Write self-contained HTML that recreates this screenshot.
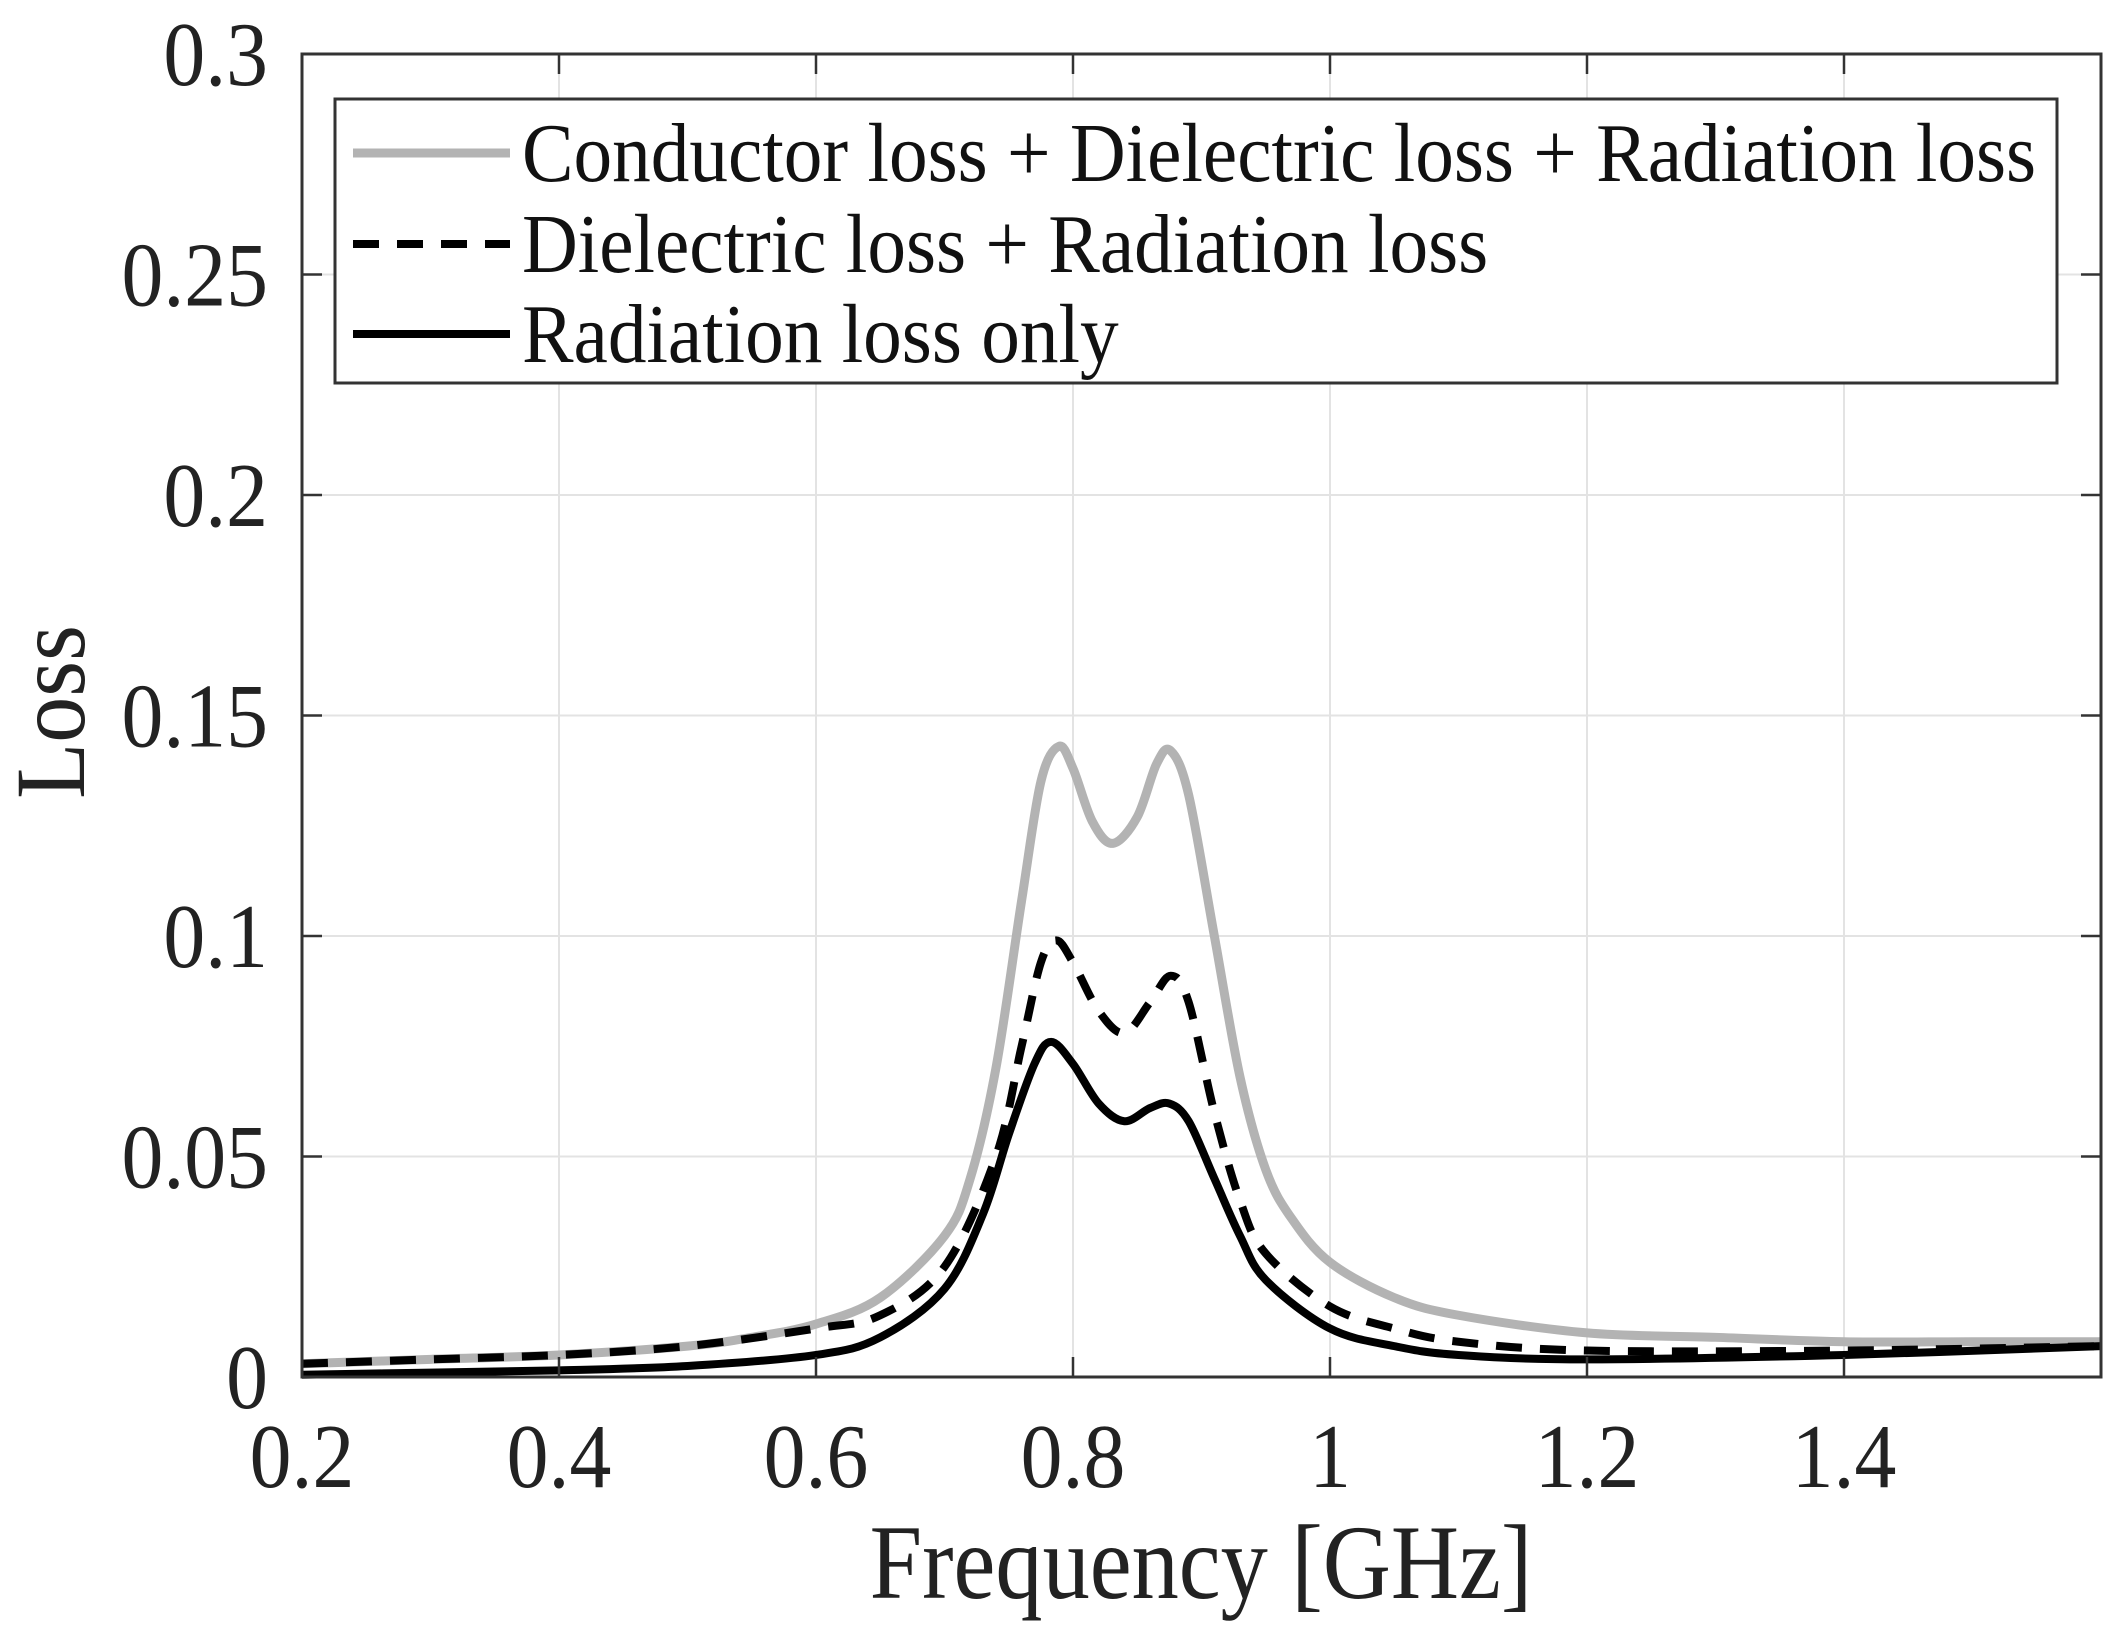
<!DOCTYPE html>
<html><head><meta charset="utf-8"><style>
html,body{margin:0;padding:0;background:#fff;}
svg{display:block;font-family:"Liberation Serif",serif;}
</style></head><body>
<svg id="chart" width="2128" height="1642" viewBox="0 0 2128 1642" xmlns="http://www.w3.org/2000/svg">
<g id="grid"></g>
<g id="series"></g>
<g id="axes"></g>
<text transform="translate(1201,1598) scale(0.89,1)" font-size="106" text-anchor="middle" fill="#222">Frequency [GHz]</text>
<text transform="translate(84,712) rotate(-90) scale(0.92,1)" font-size="100" text-anchor="middle" fill="#222">Loss</text>
<g>
<rect x="335" y="99" width="1722" height="284" fill="#fff" stroke="#333" stroke-width="3"/>
<line x1="353" y1="153" x2="510" y2="153" stroke="#b3b3b3" stroke-width="9"/>
<text transform="translate(522,181) scale(0.92,1)" font-size="84" fill="#111">Conductor loss + Dielectric loss + Radiation loss</text>
<line x1="353" y1="244" x2="510" y2="244" stroke="#000" stroke-width="8" stroke-dasharray="26,18"/>
<text transform="translate(522,272) scale(0.92,1)" font-size="84" fill="#111">Dielectric loss + Radiation loss</text>
<line x1="353" y1="334" x2="510" y2="334" stroke="#000" stroke-width="8"/>
<text transform="translate(522,362) scale(0.92,1)" font-size="84" fill="#111">Radiation loss only</text>
</g>
</svg>
<script>
const xTicks=[0.2,0.4,0.6,0.8,1.0,1.2,1.4];
const xTickLabels=["0.2","0.4","0.6","0.8","1","1.2","1.4"];
const yTicks=[0,0.05,0.1,0.15,0.2,0.25,0.3];
const yTickLabels=["0","0.05","0.1","0.15","0.2","0.25","0.3"];
const totalF=[0.2,0.3,0.4,0.5,0.55,0.6,0.65,0.7,0.72,0.74,0.76,0.775,0.789,0.80,0.815,0.831,0.85,0.865,0.876,0.89,0.91,0.93,0.95,0.97,1.0,1.05,1.1,1.2,1.3,1.4,1.5,1.6];
const totalV=[0.003,0.004,0.005,0.007,0.009,0.012,0.018,0.032,0.045,0.07,0.108,0.135,0.143,0.138,0.126,0.121,0.127,0.139,0.142,0.132,0.1,0.068,0.047,0.036,0.026,0.018,0.014,0.010,0.009,0.008,0.008,0.008];
const dielF=[0.2,0.3,0.4,0.5,0.6,0.65,0.7,0.74,0.76,0.775,0.787,0.80,0.82,0.84,0.86,0.876,0.89,0.91,0.93,0.95,1.0,1.05,1.1,1.2,1.4,1.6];
const dielV=[0.003,0.004,0.005,0.007,0.011,0.014,0.025,0.05,0.075,0.094,0.099,0.094,0.083,0.078,0.085,0.091,0.085,0.06,0.04,0.028,0.016,0.011,0.008,0.006,0.006,0.007];
const radF=[0.2,0.3,0.4,0.5,0.6,0.65,0.7,0.73,0.75,0.77,0.783,0.80,0.82,0.84,0.86,0.875,0.89,0.91,0.93,0.95,1.0,1.05,1.1,1.2,1.4,1.6];
const radV=[0.0005,0.001,0.0015,0.0025,0.005,0.009,0.02,0.037,0.055,0.071,0.076,0.071,0.062,0.058,0.061,0.062,0.058,0.045,0.032,0.022,0.011,0.007,0.005,0.004,0.005,0.007];

const L=302,R=2101,T=54,B=1377,X0=0.2,X1=1.6,Y0=0,Y1=0.3;
const sx=f=>L+(f-X0)/(X1-X0)*(R-L);
const sy=v=>B-(v-Y0)/(Y1-Y0)*(B-T);
const NS="http://www.w3.org/2000/svg";
function mk(tag,parent){const e=document.createElementNS(NS,tag);document.getElementById(parent).appendChild(e);return e;}

xTicks.forEach((t,i)=>{
  const g=mk('line','grid');
  
  
  g.setAttribute('x1',sx(t));g.setAttribute('x2',sx(t));g.setAttribute('y1',T);g.setAttribute('y2',B);
  g.setAttribute('stroke','#e3e3e3');g.setAttribute('stroke-width','2');
  [[B,B-20],[T,T+20]].forEach(p=>{
    const k=mk('line','axes');
    
    
    k.setAttribute('x1',sx(t));k.setAttribute('x2',sx(t));k.setAttribute('y1',p[0]);k.setAttribute('y2',p[1]);
    k.setAttribute('stroke','#333');k.setAttribute('stroke-width','2.5');
  });
  const tx=mk('text','axes');
  
  
  tx.setAttribute('transform','translate('+sx(t)+',1487) scale(0.92,1)');
  tx.setAttribute('font-size','91');
  tx.setAttribute('text-anchor','middle');tx.setAttribute('fill','#222');
  tx.textContent=xTickLabels[i];
});
yTicks.forEach((t,i)=>{
  const g=mk('line','grid');
  
  
  g.setAttribute('x1',L);g.setAttribute('x2',R);g.setAttribute('y1',sy(t));g.setAttribute('y2',sy(t));
  g.setAttribute('stroke','#e3e3e3');g.setAttribute('stroke-width','2');
  [[L,L+20],[R,R-20]].forEach(p=>{
    const k=mk('line','axes');
    
    
    k.setAttribute('x1',p[0]);k.setAttribute('x2',p[1]);k.setAttribute('y1',sy(t));k.setAttribute('y2',sy(t));
    k.setAttribute('stroke','#333');k.setAttribute('stroke-width','2.5');
  });
  const tx=mk('text','axes');
  
  
  tx.setAttribute('transform','translate(268,'+(sy(t)+31)+') scale(0.92,1)');
  tx.setAttribute('font-size','91');
  tx.setAttribute('text-anchor','end');tx.setAttribute('fill','#222');
  tx.textContent=yTickLabels[i];
});
const box=mk('rect','axes');


box.setAttribute('x',L);box.setAttribute('y',T);box.setAttribute('width',R-L);box.setAttribute('height',B-T);
box.setAttribute('fill','none');box.setAttribute('stroke','#333');box.setAttribute('stroke-width','3');

function pathFor(F,V){
  const p=F.map((f,i)=>[sx(f),sy(V[i])]);
  let d='M'+p[0][0]+','+p[0][1];
  for(let i=0;i<p.length-1;i++){
    const p0=p[Math.max(0,i-1)],p1=p[i],p2=p[i+1],p3=p[Math.min(p.length-1,i+2)];
    const c1=[p1[0]+(p2[0]-p0[0])/6,p1[1]+(p2[1]-p0[1])/6];
    const c2=[p2[0]-(p3[0]-p1[0])/6,p2[1]-(p3[1]-p1[1])/6];
    d+=' C'+c1[0]+','+c1[1]+' '+c2[0]+','+c2[1]+' '+p2[0]+','+p2[1];
  }
  return d;
}
function series(F,V,name,color,w,dash){
  const e=mk('path','series');
  
  
  e.setAttribute('d',pathFor(F,V));
  e.setAttribute('fill','none');e.setAttribute('stroke',color);e.setAttribute('stroke-width',w);
  e.setAttribute('stroke-linejoin','round');
  if(dash)e.setAttribute('stroke-dasharray',dash);
}
series(totalF,totalV,'total-loss-line','#b3b3b3',9,null);
series(dielF,dielV,'dielectric-radiation-loss-line','#000',8,'26,18');
series(radF,radV,'radiation-loss-line','#000',8,null);
</script>
</body></html>
